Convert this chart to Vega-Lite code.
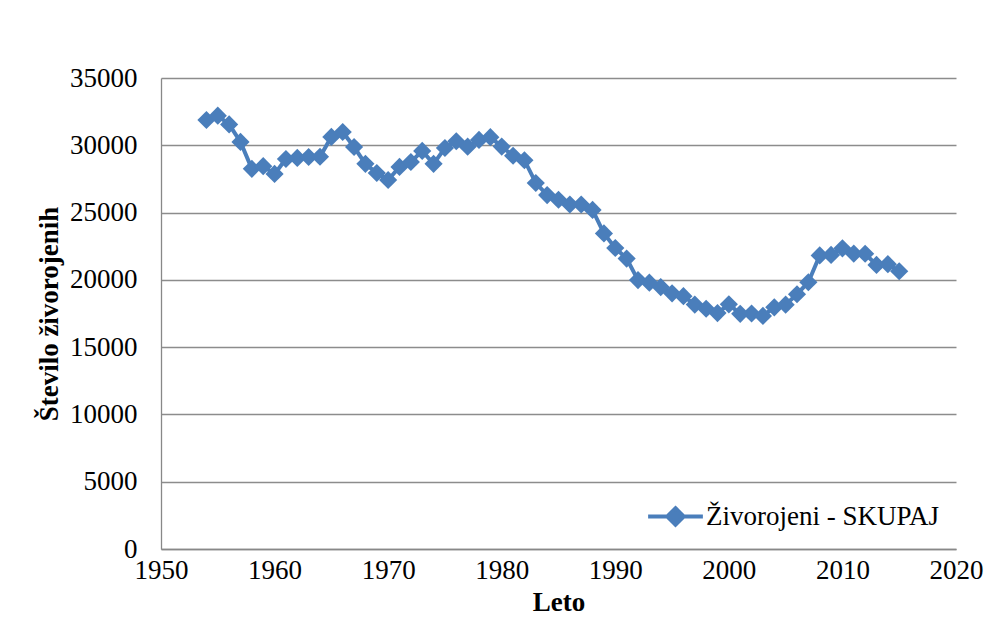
{
  "$schema": "https://vega.github.io/schema/vega-lite/v6.json",
  "width": 795,
  "height": 471,
  "autosize": "none",
  "padding": {"left": 161, "top": 78, "right": 36, "bottom": 68},
  "background": "white",
  "config": {
    "view": {"stroke": null},
    "font": "Liberation Serif",
    "axis": {
      "labelFont": "Liberation Serif",
      "titleFont": "Liberation Serif",
      "labelColor": "black",
      "titleColor": "black",
      "domainColor": "#888888",
      "gridColor": "#8c8c8c",
      "gridWidth": 1.3,
      "domainWidth": 1.3,
      "ticks": false
    }
  },
  "data": {
    "values": [
      {"leto": 1954, "st": 31880}, {"leto": 1955, "st": 32200}, {"leto": 1956, "st": 31550},
      {"leto": 1957, "st": 30250}, {"leto": 1958, "st": 28250}, {"leto": 1959, "st": 28450},
      {"leto": 1960, "st": 27870}, {"leto": 1961, "st": 28980}, {"leto": 1962, "st": 29060},
      {"leto": 1963, "st": 29130}, {"leto": 1964, "st": 29150}, {"leto": 1965, "st": 30620},
      {"leto": 1966, "st": 30990}, {"leto": 1967, "st": 29870}, {"leto": 1968, "st": 28620},
      {"leto": 1969, "st": 27940}, {"leto": 1970, "st": 27420}, {"leto": 1971, "st": 28390},
      {"leto": 1972, "st": 28760}, {"leto": 1973, "st": 29580}, {"leto": 1974, "st": 28620},
      {"leto": 1975, "st": 29800}, {"leto": 1976, "st": 30300}, {"leto": 1977, "st": 29900},
      {"leto": 1978, "st": 30400}, {"leto": 1979, "st": 30604}, {"leto": 1980, "st": 29902},
      {"leto": 1981, "st": 29220}, {"leto": 1982, "st": 28890}, {"leto": 1983, "st": 27200},
      {"leto": 1984, "st": 26300}, {"leto": 1985, "st": 25950}, {"leto": 1986, "st": 25600},
      {"leto": 1987, "st": 25600}, {"leto": 1988, "st": 25200}, {"leto": 1989, "st": 23450},
      {"leto": 1990, "st": 22368}, {"leto": 1991, "st": 21583}, {"leto": 1992, "st": 19982},
      {"leto": 1993, "st": 19793}, {"leto": 1994, "st": 19463}, {"leto": 1995, "st": 19000},
      {"leto": 1996, "st": 18788}, {"leto": 1997, "st": 18165}, {"leto": 1998, "st": 17856},
      {"leto": 1999, "st": 17533}, {"leto": 2000, "st": 18180}, {"leto": 2001, "st": 17477},
      {"leto": 2002, "st": 17501}, {"leto": 2003, "st": 17321}, {"leto": 2004, "st": 17961},
      {"leto": 2005, "st": 18157}, {"leto": 2006, "st": 18932}, {"leto": 2007, "st": 19823},
      {"leto": 2008, "st": 21817}, {"leto": 2009, "st": 21856}, {"leto": 2010, "st": 22343},
      {"leto": 2011, "st": 21947}, {"leto": 2012, "st": 21938}, {"leto": 2013, "st": 21111},
      {"leto": 2014, "st": 21165}, {"leto": 2015, "st": 20641}
    ]
  },
  "encoding": {
    "x": {
      "field": "leto",
      "type": "quantitative",
      "scale": {"domain": [1950, 2020], "nice": false, "zero": false},
      "axis": {
        "values": [1950, 1960, 1970, 1980, 1990, 2000, 2010, 2020],
        "format": "d",
        "grid": false,
        "labelFontSize": 27,
        "labelPadding": 8,
        "labelFlush": false,
        "title": "Leto",
        "titleFontSize": 27,
        "titleFontWeight": "bold",
        "titlePadding": 6
      }
    },
    "y": {
      "field": "st",
      "type": "quantitative",
      "scale": {"domain": [0, 35000], "nice": false},
      "axis": {
        "values": [0, 5000, 10000, 15000, 20000, 25000, 30000, 35000],
        "format": "d",
        "grid": true,
        "labelFontSize": 27,
        "labelPadding": 24,
        "title": "Število živorojenih",
        "titleFontSize": 27,
        "titleFontWeight": "bold",
        "titlePadding": 6
      }
    },
    "color": {
      "datum": "Živorojeni - SKUPAJ",
      "type": "nominal",
      "scale": {"range": ["#4a7ebb"]},
      "legend": {
        "title": null,
        "orient": "bottom-right",
        "offset": 16,
        "labelFont": "Liberation Serif",
        "labelFontSize": 27,
        "labelLimit": 0,
        "labelColor": "black",
        "labelOffset": 1,
        "symbolType": "M-1,0H1M0,-0.3L0.3,0L0,0.3L-0.3,0Z",
        "symbolSize": 3000,
        "symbolStrokeWidth": 4,
        "symbolFillColor": "#4a7ebb",
        "symbolStrokeColor": "#4a7ebb"
      }
    }
  },
  "layer": [
    {"mark": {"type": "line", "strokeWidth": 4}},
    {"mark": {"type": "point", "shape": "diamond", "filled": true, "size": 330, "opacity": 1}}
  ]
}
